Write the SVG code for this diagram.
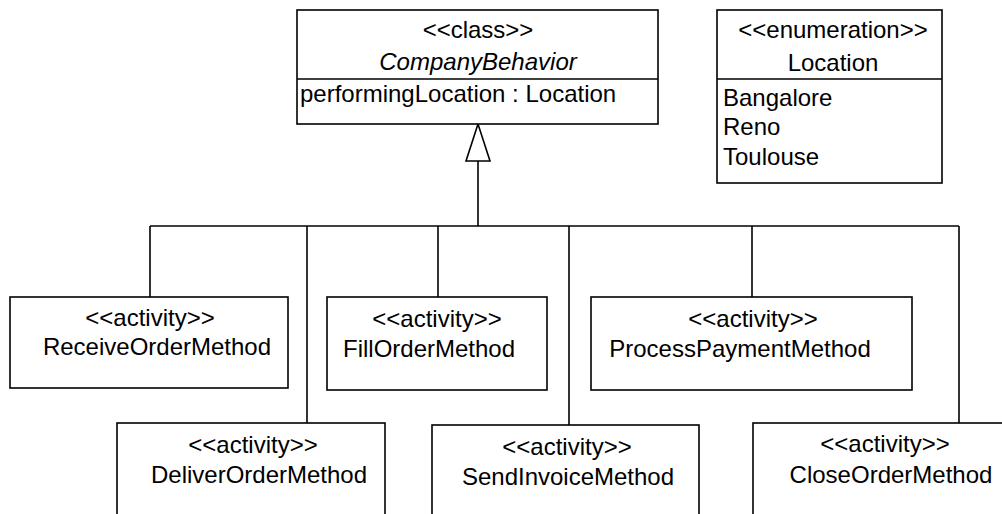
<svg xmlns="http://www.w3.org/2000/svg" width="1002" height="514" viewBox="0 0 1002 514">
  <style>
    .box { fill: #ffffff; stroke: #000000; stroke-width: 1.6; }
    .line { fill: none; stroke: #000000; stroke-width: 1.6; }
    .txt { font-family: "Liberation Sans", Arial, sans-serif; font-size: 24px; fill: #000000; }
    .c { text-anchor: middle; }
    .it { font-style: italic; }
  </style>
  <rect width="1002" height="514" fill="#ffffff"/>

  <!-- generalization tree -->
  <g id="connectors">
    <polyline class="line" points="478,161 478,226"/>
    <polygon class="box" points="478,124 466,161 490,161"/>
    <polyline class="line" points="150,226 959,226"/>
    <polyline class="line" points="150,226 150,297"/>
    <polyline class="line" points="307,226 307,423"/>
    <polyline class="line" points="438,226 438,297"/>
    <polyline class="line" points="569,226 569,425"/>
    <polyline class="line" points="752,226 752,297"/>
    <polyline class="line" points="959,226 959,423"/>
  </g>

  <g id="CompanyBehavior">
    <rect class="box" x="297" y="10" width="361" height="114"/>
    <line class="line" x1="297" y1="79" x2="658" y2="79"/>
    <text class="txt c" x="478" y="38">&lt;&lt;class&gt;&gt;</text>
    <text class="txt c it" x="478" y="70">CompanyBehavior</text>
    <text class="txt" x="300" y="102">performingLocation : Location</text>
  </g>

  <g id="Location">
    <rect class="box" x="717" y="10" width="225" height="173"/>
    <line class="line" x1="717" y1="79" x2="942" y2="79"/>
    <text class="txt c" x="833" y="38">&lt;&lt;enumeration&gt;&gt;</text>
    <text class="txt c" x="833" y="71">Location</text>
    <text class="txt" x="723" y="106">Bangalore</text>
    <text class="txt" x="723" y="135">Reno</text>
    <text class="txt" x="723" y="165">Toulouse</text>
  </g>

  <g id="ReceiveOrderMethod">
    <rect class="box" x="10" y="297" width="278" height="91"/>
    <text class="txt c" x="150" y="326">&lt;&lt;activity&gt;&gt;</text>
    <text class="txt c" x="157" y="355">ReceiveOrderMethod</text>
  </g>

  <g id="FillOrderMethod">
    <rect class="box" x="327" y="297" width="220" height="93"/>
    <text class="txt c" x="437" y="327">&lt;&lt;activity&gt;&gt;</text>
    <text class="txt c" x="429" y="357">FillOrderMethod</text>
  </g>

  <g id="ProcessPaymentMethod">
    <rect class="box" x="591" y="297" width="321" height="93"/>
    <text class="txt c" x="753" y="327">&lt;&lt;activity&gt;&gt;</text>
    <text class="txt c" x="740" y="357">ProcessPaymentMethod</text>
  </g>

  <g id="DeliverOrderMethod">
    <rect class="box" x="117" y="423" width="268" height="110"/>
    <text class="txt c" x="253" y="453">&lt;&lt;activity&gt;&gt;</text>
    <text class="txt c" x="259" y="483">DeliverOrderMethod</text>
  </g>

  <g id="SendInvoiceMethod">
    <rect class="box" x="432" y="425" width="267" height="110"/>
    <text class="txt c" x="567" y="455">&lt;&lt;activity&gt;&gt;</text>
    <text class="txt c" x="568" y="485">SendInvoiceMethod</text>
  </g>

  <g id="CloseOrderMethod">
    <rect class="box" x="753" y="423" width="270" height="110"/>
    <text class="txt c" x="885" y="452">&lt;&lt;activity&gt;&gt;</text>
    <text class="txt c" x="891" y="483">CloseOrderMethod</text>
  </g>
</svg>
